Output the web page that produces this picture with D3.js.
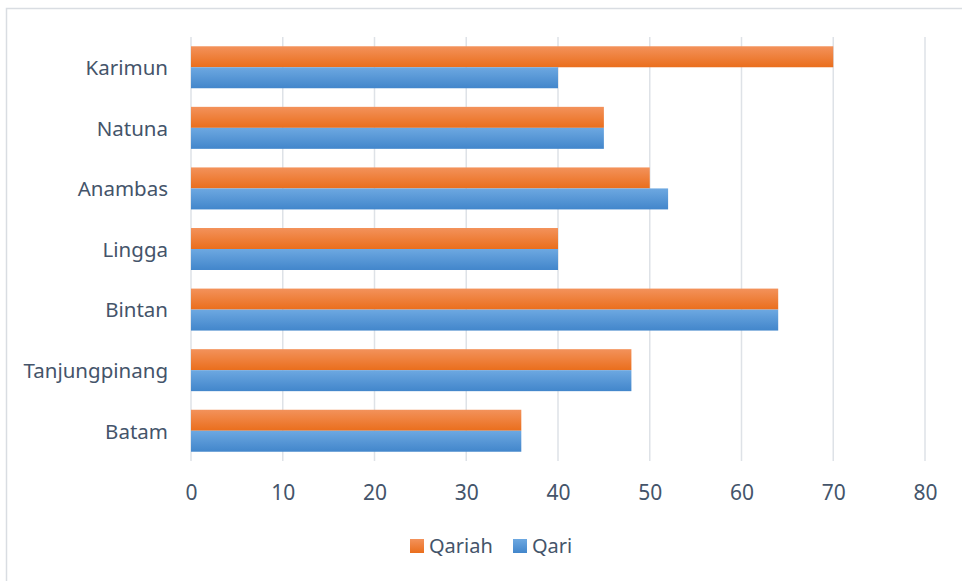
<!DOCTYPE html>
<html><head><meta charset="utf-8">
<script src="https://cdn.jsdelivr.net/npm/d3@7/dist/d3.min.js"></script>
<style>body{margin:0;background:#fff}svg{display:block}</style>
</head><body>
<svg id="c" width="962" height="581"></svg>
<script>
const categories = ["Karimun","Natuna","Anambas","Lingga","Bintan","Tanjungpinang","Batam"];
const seriesNames = ["Qariah","Qari"];
const qariah = [70,45,50,40,64,48,36];
const qari = [40,45,52,40,64,48,36];
const xTicks = [0,10,20,30,40,50,60,70,80];

const svg = d3.select("#c");
const font = "'Noto Sans', 'Open Sans', sans-serif";
const textColor = "#44546A";

svg.append("rect").attr("x",6.5).attr("y",8.5).attr("width",970).attr("height",600)
  .attr("fill","#fff").attr("stroke","#D9DDE2").attr("stroke-width",1.5);

const defs = svg.append("defs");
function grad(id, top, bottom){
  const g = defs.append("linearGradient").attr("id",id).attr("x1",0).attr("y1",0).attr("x2",0).attr("y2",1);
  g.append("stop").attr("offset","0%").attr("stop-color",top);
  g.append("stop").attr("offset","100%").attr("stop-color",bottom);
}
grad("gO","#F3925B","#EA6E1C");
grad("gB","#6DA8E1","#4286CB");

const x = d3.scaleLinear().domain([0,80]).range([191,925]);
const y = d3.scaleBand().domain(categories).range([37,461]).paddingInner(0.307).paddingOuter(0.153);
const ys = d3.scaleBand().domain(seriesNames).range([0,y.bandwidth()]);

svg.append("g").selectAll("line").data(xTicks).join("line")
  .attr("x1",d=>x(d)).attr("x2",d=>x(d)).attr("y1",37).attr("y2",461)
  .attr("stroke","#DEE2E7").attr("stroke-width",1.5);

const xAxis = d3.axisBottom(x).tickValues(xTicks).tickSize(0).tickPadding(0);
const gx = svg.append("g").attr("transform","translate(0,500)").call(xAxis);
gx.select(".domain").remove();
gx.selectAll("text").attr("font-family",font).attr("font-size",21).attr("fill",textColor).attr("dy","0");

const yAxis = d3.axisLeft(y).tickSize(0).tickPadding(0);
const gy = svg.append("g").attr("transform","translate(168,0)").call(yAxis);
gy.select(".domain").remove();
gy.selectAll("text").attr("font-family",font).attr("font-size",20.5).attr("fill",textColor).attr("dy","0.38em");

const data = categories.map((c,i)=>({c, vals:[{s:"Qariah",v:qariah[i]},{s:"Qari",v:qari[i]}]}));
const groups = svg.append("g").selectAll("g").data(data).join("g")
  .attr("transform",d=>`translate(0,${y(d.c)})`);
groups.selectAll("rect").data(d=>d.vals).join("rect")
  .attr("x",x(0)).attr("y",d=>ys(d.s)).attr("height",ys.bandwidth())
  .attr("width",d=>x(d.v)-x(0))
  .attr("fill",d=>d.s==="Qariah"?"url(#gO)":"url(#gB)");

const legend = svg.append("g");
const lg = [{s:"Qariah",x:410,fill:"url(#gO)"},{s:"Qari",x:513,fill:"url(#gB)"}];
const li = legend.selectAll("g").data(lg).join("g").attr("transform",d=>`translate(${d.x},539)`);
li.append("rect").attr("width",14).attr("height",14).attr("fill",d=>d.fill);
li.append("text").attr("x",19).attr("y",14).text(d=>d.s)
  .attr("font-family",font).attr("font-size",20).attr("fill",textColor);
</script>
</body></html>
